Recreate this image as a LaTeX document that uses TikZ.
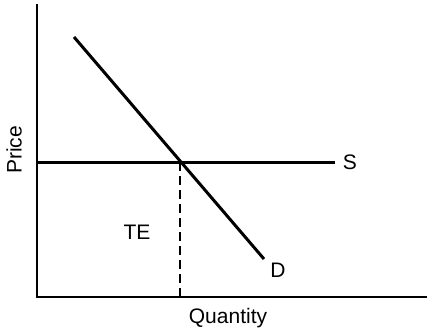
\documentclass[tikz,border=0pt]{standalone}
\usepackage{fontspec}
\setmainfont{Liberation Sans}
\usepackage{tikz}
\usetikzlibrary{positioning,calc}

\begin{document}
\begin{tikzpicture}[x=1pt,y=-1pt,font=\fontsize{21}{25}\selectfont,
  curve/.style={line width=3pt},
  axis/.style={line width=2.2pt}]
  \useasboundingbox (0,0) rectangle (427,332);
  % axes
  \coordinate (origin) at (37,297);
  \coordinate (ytop) at (37,4);
  \coordinate (xend) at (427,297);
  \draw[axis] (ytop) -- (origin) -- (xend);
  \node[rotate=90] (price) at (14,150) {Price};
  \node (quantity) at (228,318) {Quantity};
  % supply and demand
  \coordinate (sstart) at (37,162);
  \coordinate (send) at (335,162);
  \coordinate (dtop) at (74,37);
  \coordinate (dbot) at (264,259);
  \draw[curve] (sstart) -- (send) node[right=3pt] (slabel) {S};
  \draw[curve] (dtop) -- (dbot);
  \node (dlabel) at (278,270) {D};
  \coordinate (eq) at (179.5,162);
  \coordinate (eqbase) at (179.5,297);
  \draw[line width=2pt,dash pattern=on 9pt off 5pt] (eq) -- (eqbase);
  \node (te) at (137,232) {TE};
\end{tikzpicture}
\end{document}
